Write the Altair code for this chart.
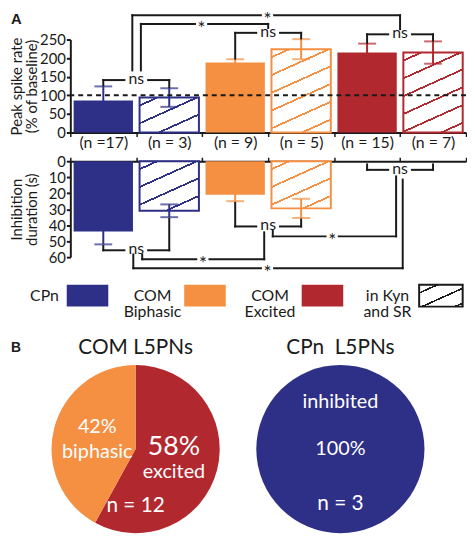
import math
import altair as alt
import pandas as pd

FONT = "Lato"
BLUE = "#2E3087"
ORANGE = "#F58F42"
RED = "#B2282F"
BLACK = "#1a1a1a"

# ---------------- data (panel A) ----------------
groups = ["CPn", "CPn Kyn", "COM Biphasic", "COM Biphasic Kyn", "COM Excited", "COM Excited Kyn"]
n_labels = ["(n =17)", "(n = 3)", "(n = 9)", "(n = 5)", "(n = 15)", "(n = 7)"]
in_kyn = [False, True, False, True, False, True]
bar_colors = [BLUE, BLUE, ORANGE, ORANGE, RED, RED]
peak_mean = [86, 94, 188, 224, 215, 215]
peak_err = [38, 25, 9, 27, 24, 30]
inh_mean = [44, 31, 21, 29.5, None, None]
inh_err = [8, 4, 4, 6, None, None]

# significance brackets: (label, x_left, x_right, y_line, y_left_end, y_right_end, x_label)
# x in bar-index units (bar i centred at i + 0.5), y in data units of the panel
peak_brackets = [
    ("ns", 0.5, 1.5, 141, 127, 122, 1.0),
    ("ns", 2.5, 3.5, 268, 199, 253, 3.0),
    ("ns", 4.5, 5.5, 264, 241, 247, 5.0),
    ("*", 1.07, 3.0, 292, 167, 281, 1.99),
    ("*", 0.94, 5.0, 315, 167, 278, 2.99),
]
inh_brackets = [
    ("ns", 0.5, 1.5, 55.7, 53, 36, 1.0),
    ("ns", 2.5, 3.5, 40.8, 26, 36.5, 3.0),
    ("ns", 4.5, 5.5, 5.4, 2.0, 2.0, 5.0),
    ("*", 3.07, 4.94, 47, 43.5, 9.5, 3.97),
    ("*", 1.09, 2.94, 61.3, 58.3, 44.5, 2.01),
    ("*", 0.955, 5.04, 66.9, 58.3, 11.5, 2.99),
]

legend_items = ["CPn", "COM\nBiphasic", "COM\nExcited", "in Kyn\nand SR"]
legend_colors = [BLUE, ORANGE, RED, "white"]
legend_hatched = [False, False, False, True]

# ---------------- data (panel B) ----------------
com_title = "COM L5PNs"
com_kinds = ["excited", "biphasic"]
com_pct = [58, 42]
com_colors = [RED, ORANGE]
com_n = "n = 12"
cpn_title = "CPn\u00a0 L5PNs"
cpn_kind = "inhibited"
cpn_pct = [100]
cpn_n = "n = 3"

# ---------------- layout ----------------
PW = 400
PH_TOP = 94
PH_BOT = 97
BAR_FRAC = 0.9
BAR_W = PW / len(groups) * BAR_FRAC
PIE_R = 85
PIE_W = 132


def hatch(color, w, h, slope=0.45, spacing=18.0, thick=1.8, phase=0.45):
    """Diagonal hatching as a hard-stop linear gradient (bounding-box units)."""
    a, b = slope / h, 1.0 / w
    k = (a + b) / (a * a + b * b)
    span = slope * w + h
    dt = spacing / span
    half = thick * math.hypot(1, slope) / span / 2
    GS = alt.GradientStop
    stops = [GS(offset=0, color="white")]
    t = phase * dt
    while t - half < 1:
        s, e = round(max(0.0, t - half), 4), round(min(1.0, t + half), 4)
        stops += [GS(offset=s, color="white"), GS(offset=s, color=color),
                  GS(offset=e, color=color), GS(offset=e, color="white")]
        t += dt
    stops.append(GS(offset=1, color="white"))
    return alt.LinearGradient(gradient="linear", stops=stops, x1=0, y1=0,
                              x2=round(k * a, 4), y2=round(k * b, 4))


def yaxis(values):
    return alt.Axis(values=values, grid=False, domainWidth=2, domainColor=BLACK,
                    tickColor=BLACK, tickWidth=2, tickSize=4, labelFontSize=15,
                    labelColor=BLACK, labelPadding=1, titleFontSize=15,
                    titleFontWeight="normal", titleColor=BLACK, titlePadding=0,
                    titleLineHeight=15, minExtent=31, maxExtent=31)


label_expr = ("[" + ",".join(f"'{s}'" for s in n_labels) + "][indexof(["
              + ",".join(f"'{g}'" for g in groups) + "], datum.value)]")
top_xaxis = alt.Axis(orient="bottom", labelExpr=label_expr, labelAngle=0, labelFontSize=16,
                     labelColor=BLACK, labelPadding=-2, tickBand="extent", tickSize=4,
                     tickWidth=1.5, tickColor=BLACK, domainWidth=2, domainColor=BLACK)
bot_xaxis = alt.Axis(orient="top", labels=False, tickBand="extent", tickSize=4,
                     tickWidth=1.5, tickColor=BLACK, domainWidth=2, domainColor=BLACK)


def xband(axis):
    return alt.X("group:N", scale=alt.Scale(domain=groups, paddingInner=0, paddingOuter=0),
                 axis=axis, title=None)


XQ = alt.X("x:Q", scale=alt.Scale(domain=[0, len(groups)], nice=False, zero=False), axis=None)


def bracket_frames(brackets):
    gap = {"ns": 0.18, "*": 0.1}
    segs, labels = [], []
    for lab, xl, xr, yl, yle, yre, xt in brackets:
        g = gap[lab]
        segs += [dict(x=xl, x2=xl, y=yle, y2=yl), dict(x=xr, x2=xr, y=yre, y2=yl),
                 dict(x=xl, x2=xt - g, y=yl, y2=yl), dict(x=xt + g, x2=xr, y=yl, y2=yl)]
        labels.append(dict(label=lab, x=xt, y=yl))
    return pd.DataFrame(segs), pd.DataFrame(labels)


def bar_panel(means, errs, ydef, ph, dmax, xaxis, brackets, extra=None, dashed=None):
    df = pd.DataFrame({"group": groups, "color": bar_colors, "kyn": in_kyn,
                       "mean": means, "err": errs})
    base = alt.Chart(df).transform_filter("isValid(datum.mean)")
    layers = [base.transform_filter("!datum.kyn")
              .mark_bar(width=alt.RelativeBandSize(BAR_FRAC))
              .encode(x=xband(xaxis), y=ydef("mean"), color=alt.Color("color:N", scale=None))]
    for g, c, k, m in zip(groups, bar_colors, in_kyn, means):
        if k and m:
            layers.append(base.transform_filter(alt.datum.group == g)
                          .mark_bar(width=alt.RelativeBandSize(BAR_FRAC),
                                    fill=hatch(c, BAR_W, m * ph / dmax),
                                    stroke=c, strokeWidth=2)
                          .encode(x=xband(xaxis), y=ydef("mean")))
    err = base.transform_calculate(lo="datum.mean - datum.err", hi="datum.mean + datum.err")
    layers.append(err.mark_rule(strokeWidth=2).encode(
        x=xband(xaxis), y=ydef("lo"), y2="hi:Q", color=alt.Color("color:N", scale=None)))
    for f in ("lo", "hi"):
        layers.append(err.mark_tick(size=18, thickness=2).encode(
            x=xband(xaxis), y=ydef(f), color=alt.Color("color:N", scale=None)))
    if dashed is not None:
        layers.append(alt.Chart(pd.DataFrame({"v": [dashed]}))
                      .mark_rule(strokeDash=[5, 4], strokeWidth=2, color=BLACK)
                      .encode(y=ydef("v")))
    core = alt.layer(*layers)

    segs, labs = bracket_frames(brackets)
    ann = [
        alt.Chart(segs).mark_rule(strokeWidth=2, color=BLACK, strokeCap="square")
        .encode(x=XQ, x2="x2:Q", y=ydef("y"), y2="y2:Q"),
        alt.Chart(labs).transform_filter("datum.label == 'ns'")
        .mark_text(fontSize=16, color=BLACK, baseline="middle", dy=-1)
        .encode(x=XQ, y=ydef("y"), text="label:N"),
        alt.Chart(labs).transform_filter("datum.label == '*'")
        .mark_text(fontSize=19, color=BLACK, baseline="middle", dy=5)
        .encode(x=XQ, y=ydef("y"), text="label:N"),
    ]
    if extra is not None:
        ann.append(extra)
    return alt.layer(core, alt.layer(*ann)).resolve_scale(x="independent").properties(
        width=PW, height=ph)


def ypeak(field):
    return alt.Y(field, type="quantitative",
                 scale=alt.Scale(domain=[0, 250], nice=False),
                 axis=yaxis([0, 50, 100, 150, 200, 250]),
                 title=["Peak spike rate", "(% of baseline)"])


def yinh(field):
    return alt.Y(field, type="quantitative",
                 scale=alt.Scale(domain=[0, 60], nice=False, reverse=True),
                 axis=yaxis([0, 10, 20, 30, 40, 50, 60]),
                 title=["Inhibition", "duration (s)"])


label_A = alt.Chart(pd.DataFrame({"t": ["A"]})).mark_text(
    font="Liberation Sans", fontWeight="bold", fontSize=15, align="left",
    baseline="middle", color=BLACK).encode(x=alt.value(-60), y=alt.value(-21), text="t:N")

peak_chart = bar_panel(peak_mean, peak_err, ypeak, PH_TOP, 250, top_xaxis,
                       peak_brackets, extra=label_A, dashed=100)
inh_chart = bar_panel(inh_mean, inh_err, yinh, PH_BOT, 60, bot_xaxis, inh_brackets)

# ---------------- legend ----------------
leg_df = pd.DataFrame({"item": legend_items, "color": legend_colors, "hatched": legend_hatched})
LX = alt.X("item:N", scale=alt.Scale(domain=legend_items, range=[-65, 410],
                                     paddingInner=0, paddingOuter=0), axis=None)
leg_solid = alt.Chart(leg_df).transform_filter("!datum.hatched").mark_bar(
    width=42, xOffset=23).encode(x=LX, color=alt.Color("color:N", scale=None))
leg_hatch = alt.Chart(leg_df).transform_filter("datum.hatched").mark_bar(
    width=44, xOffset=24, fill=hatch(BLACK, 44, 22, spacing=15, thick=1.6, phase=0.55),
    stroke=BLACK, strokeWidth=2).encode(x=LX)
leg_text_one = alt.Chart(leg_df).transform_filter("indexof(datum.item, '\\n') < 0").mark_text(
    fontSize=16, align="right", dx=-6, color=BLACK, baseline="middle").encode(
    x=LX, text="item:N")
leg_text_two = alt.Chart(leg_df).transform_filter("indexof(datum.item, '\\n') >= 0").mark_text(
    fontSize=16, lineBreak="\n", lineHeight=16, dx=-30, color=BLACK,
    baseline="middle").encode(x=LX, text="item:N")
legend = alt.layer(leg_solid, leg_hatch, leg_text_one, leg_text_two).properties(
    width=PW, height=22)

# ---------------- panel B ----------------
TITLE_Y = -17


def pie_title(text):
    return alt.Chart(pd.DataFrame({"t": [text]})).mark_text(
        fontSize=21, color=BLACK, baseline="middle").encode(
        y=alt.value(TITLE_Y), text="t:N")


com_df = pd.DataFrame({"kind": com_kinds, "pct": com_pct, "color": com_colors,
                       "order": list(range(len(com_kinds)))})
com_base = alt.Chart(com_df).encode(theta=alt.Theta("pct:Q", stack=True),
                                    order=alt.Order("order:Q"))
com_arcs = com_base.mark_arc(radius=PIE_R).encode(color=alt.Color("color:N", scale=None))
com_pcts = com_base.transform_calculate(
    lab="datum.pct + '%'", fs="datum.kind == 'excited' ? 27 : 20").mark_text(
    radius=40, dy=-12, color="white").encode(text="lab:N", size=alt.Size("fs:Q", scale=None))
com_words = com_base.mark_text(radius=40, dy=13, fontSize=20, color="white").encode(
    text="kind:N")
com_nlab = alt.Chart(pd.DataFrame({"t": [com_n]})).mark_text(
    radius=58, theta=math.pi, fontSize=21, color="white").encode(text="t:N")
label_B = alt.Chart(pd.DataFrame({"t": ["B"]})).mark_text(
    font="Liberation Sans", fontWeight="bold", fontSize=14, align="left",
    baseline="middle", color=BLACK).encode(x=alt.value(-60), y=alt.value(TITLE_Y), text="t:N")
com_pie = alt.layer(com_arcs, com_pcts, com_words, com_nlab, pie_title(com_title),
                    label_B).properties(width=PIE_W, height=2 * PIE_R)

cpn_df = pd.DataFrame({"kind": [cpn_kind], "pct": cpn_pct})
cpn_arc = alt.Chart(cpn_df).mark_arc(color=BLUE, radius=PIE_R).encode(
    theta=alt.Theta("pct:Q", stack=True))
cpn_word = alt.Chart(cpn_df).mark_text(radius=48, theta=0, fontSize=20, color="white").encode(
    text="kind:N")
cpn_pctl = alt.Chart(cpn_df).transform_calculate(lab="datum.pct + '%'").mark_text(
    fontSize=20, color="white").encode(text="lab:N")
cpn_nlab = alt.Chart(pd.DataFrame({"t": [cpn_n]})).mark_text(
    radius=56, theta=math.pi, fontSize=21, color="white").encode(text="t:N")
cpn_pie = alt.layer(cpn_arc, cpn_word, cpn_pctl, cpn_nlab, pie_title(cpn_title)).properties(
    width=PIE_W, height=2 * PIE_R)

pies = alt.hconcat(com_pie, cpn_pie, spacing=37)

panelA = alt.vconcat(peak_chart, inh_chart, spacing=4)
upper = alt.vconcat(panelA, legend, spacing=0)
chart = (alt.vconcat(upper, pies, spacing=18)
         .properties(padding={"left": 2, "top": 0, "right": 0, "bottom": 0})
         .configure(font=FONT)
         .configure_view(stroke=None))

chart.save("out.html", embed_options={"renderer": "svg", "actions": False})
